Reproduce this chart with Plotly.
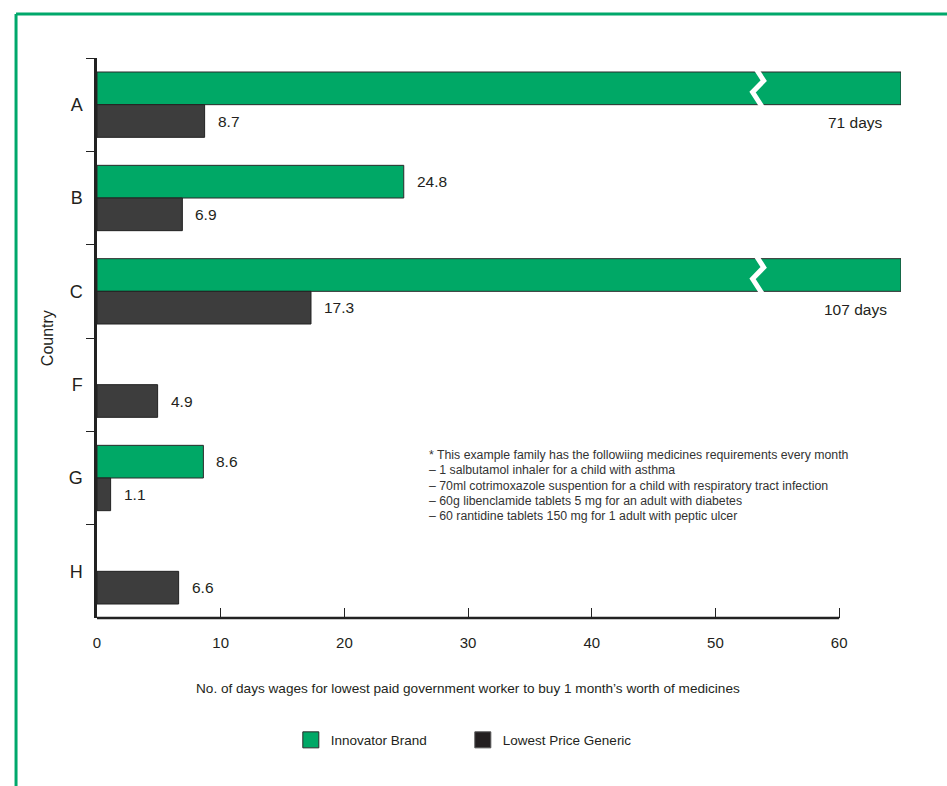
import plotly.graph_objects as go

countries = ["A", "B", "C", "F", "G", "H"]
innovator = [71, 24.8, 107, None, 8.6, None]
generic = [8.7, 6.9, 17.3, 4.9, 1.1, 6.6]
x_ticks = [0, 10, 20, 30, 40, 50, 60]
note_lines = [
    "* This example family has the followiing medicines requirements every month",
    "\u2013 1 salbutamol inhaler for a child with asthma",
    "\u2013 70ml cotrimoxazole suspention for a child with respiratory tract infection",
    "\u2013 60g libenclamide tablets 5 mg for an adult with diabetes",
    "\u2013 60 rantidine tablets 150 mg for 1 adult with peptic ulcer",
]

AXIS_MAX = 60
DISPLAY_CAP = 65
BREAK_AT = 53.3
GREEN = "#00a866"
DARK = "#3d3d3d"
FONT = "Liberation Sans, Arial, sans-serif"
TXT = "#231f20"

inn_disp = [None if v is None else min(v, DISPLAY_CAP) for v in innovator]

fig = go.Figure()
fig.add_trace(go.Bar(
    name="Innovator Brand", y=countries, x=inn_disp, orientation="h", showlegend=False,
    marker=dict(color=GREEN, line=dict(color="#2a2a2a", width=1)),
))
fig.add_trace(go.Bar(
    name="Lowest Price Generic", y=countries, x=generic, orientation="h", showlegend=False,
    marker=dict(color=DARK, line=dict(color="#222", width=1)),
))
# legend entries with larger square swatches
fig.add_trace(go.Scatter(
    name="Innovator Brand", x=[None], y=[None], mode="markers",
    marker=dict(symbol="square", size=16, color=GREEN, line=dict(color="#2a2a2a", width=1)),
))
fig.add_trace(go.Scatter(
    name="Lowest Price Generic", x=[None], y=[None], mode="markers",
    marker=dict(symbol="square", size=16, color="#231f20", line=dict(color="#555", width=1)),
))

half = 0.35
annotations = []
shapes = []
VAL_FONT = dict(family=FONT, size=15.5, color=TXT)
for i, (v_in, v_g) in enumerate(zip(innovator, generic)):
    if v_in is not None:
        if v_in > DISPLAY_CAP:
            yt, yb = i - half - 0.03, i + 0.03
            h = yb - yt
            path = (f"M {BREAK_AT:.3f},{yt:.3f} L {BREAK_AT+0.6:.3f},{yt+0.3*h:.3f} "
                    f"L {BREAK_AT-0.3:.3f},{yt+0.6*h:.3f} L {BREAK_AT+0.5:.3f},{yb:.3f}")
            shapes.append(dict(type="path", path=path, xref="x", yref="y",
                               line=dict(color="white", width=5)))
            annotations.append(dict(x=61.3, y=i + half / 2 + 0.02, xref="x", yref="y",
                                    text=f"{v_in:g} days", showarrow=False,
                                    xanchor="center", yanchor="middle", font=VAL_FONT))
        else:
            annotations.append(dict(x=v_in, y=i - half / 2, xref="x", yref="y",
                                    text=f"{v_in:g}", showarrow=False, xanchor="left",
                                    xshift=11, yanchor="middle", font=VAL_FONT))
    annotations.append(dict(x=v_g, y=i + half / 2, xref="x", yref="y",
                            text=f"{v_g:g}", showarrow=False, xanchor="left",
                            xshift=11, yanchor="middle", font=VAL_FONT))

# note block, one line per annotation
for k, line in enumerate(note_lines):
    py = 455 + 15.3 * k
    annotations.append(dict(x=(427 - 97) / 804, y=(618 - py) / 560, xref="paper", yref="paper",
                            text=line, showarrow=False, align="left",
                            xanchor="left", yanchor="middle",
                            font=dict(family=FONT, size=12.3, color="#333")))
# x axis title centred on 0-60
annotations.append(dict(x=AXIS_MAX / 2, y=-0.125, xref="x", yref="paper",
                        text="No. of days wages for lowest paid government worker to buy 1 month\u2019s worth of medicines",
                        showarrow=False, xanchor="center", yanchor="middle",
                        font=dict(family=FONT, size=13.6, color=TXT)))
# y axis title
annotations.append(dict(x=-0.062, y=0.5, xref="paper", yref="paper", text="Country",
                        textangle=-90, showarrow=False, xanchor="center", yanchor="middle",
                        font=dict(family=FONT, size=16, color=TXT)))

# x axis line from 0 to 60
shapes.append(dict(type="line", xref="x", yref="paper", x0=0, x1=AXIS_MAX, y0=0, y1=0,
                   line=dict(color="#222", width=2.5)))
# green frame
shapes.append(dict(type="line", xref="paper", yref="paper", x0=-0.1007, x1=1.2,
                   y0=1.0786, y1=1.0786, line=dict(color="#00a86b", width=3)))
shapes.append(dict(type="line", xref="paper", yref="paper", x0=-0.1007, x1=-0.1007,
                   y0=1.0786, y1=-0.4, line=dict(color="#00a86b", width=3)))

fig.update_layout(
    width=947, height=786,
    margin=dict(l=97, r=46, t=58, b=168),
    paper_bgcolor="white", plot_bgcolor="white",
    barmode="group", bargap=0.3, bargroupgap=0,
    showlegend=True,
    legend=dict(orientation="h", x=0.455, y=-0.218, xanchor="center", yanchor="middle",
                font=dict(family=FONT, size=13.5, color=TXT), itemsizing="trace",
                entrywidth=127, entrywidthmode="pixels", tracegroupgap=0),
    xaxis=dict(range=[0, DISPLAY_CAP], tickvals=x_ticks, showgrid=False, zeroline=False,
               showline=False, ticks="inside", ticklen=10, tickwidth=1.2, tickcolor="#222",
               ticklabelstandoff=14,
               tickfont=dict(family=FONT, size=15, color=TXT), fixedrange=True),
    yaxis=dict(autorange="reversed", showgrid=False, zeroline=False, showline=True,
               linecolor="#222", linewidth=2.5, ticks="outside", tickson="boundaries",
               ticklen=8, tickwidth=1.2, tickcolor="#222", ticklabelstandoff=8,
               tickfont=dict(family=FONT, size=18, color=TXT)),
    annotations=annotations,
    shapes=shapes,
)

fig.write_html("out.html")
